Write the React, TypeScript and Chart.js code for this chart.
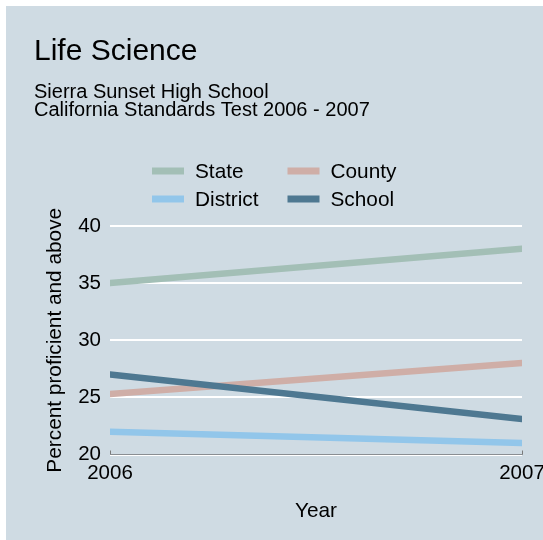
import React, { useEffect, useRef } from "react";
import { Chart, registerables } from "chart.js";

Chart.register(...registerables);

const years = [2006, 2007];
const seriesNames = ["State", "County", "District", "School"];
const stateValues = [35, 38];
const countyValues = [25.3, 28];
const districtValues = [22, 21];
const schoolValues = [27, 23.1];
const seriesColors = ["#a3bfb6", "#cfaea7", "#92c6ea", "#4e7891"];
const yTicks = [20, 25, 30, 35, 40];
const titleText = "Life Science";
const subtitleLines = ["Sierra Sunset High School", "California Standards Test 2006 - 2007"];
const xTitle = "Year";
const yTitle = "Percent proficient and above";

const FONT = "'Liberation Sans', Arial, Helvetica, sans-serif";
const PANEL = "#cfdbe3";

export default function App() {
  const canvasRef = useRef<HTMLCanvasElement | null>(null);

  useEffect(() => {
    const canvas = canvasRef.current;
    if (!canvas) return;
    const allValues = [stateValues, countyValues, districtValues, schoolValues];
    const datasets = seriesNames.map((name, i) => ({
      label: name,
      data: years.map((yr, j) => ({ x: yr, y: allValues[i][j] })),
      borderColor: seriesColors[i],
      backgroundColor: seriesColors[i],
      borderWidth: 6.5,
      borderCapStyle: "round" as const,
      pointRadius: 0,
      pointHoverRadius: 0,
      tension: 0,
      fill: false,
      order: seriesNames.length - i,
    }));

    const backgroundPlugin = {
      id: "panelBg",
      beforeDraw(chart: any) {
        const ctx = chart.ctx;
        ctx.save();
        ctx.fillStyle = "#ffffff";
        ctx.fillRect(0, 0, chart.width, chart.height);
        ctx.fillStyle = PANEL;
        ctx.fillRect(6, 6, chart.width - 6, chart.height - 6);
        ctx.restore();
      },
    };

    const legendPlugin = {
      id: "twoColLegend",
      afterDraw(chart: any) {
        const ctx = chart.ctx;
        const area = chart.chartArea;
        ctx.save();
        chart.data.datasets.forEach((ds: any, i: number) => {
          const col = i % 2;
          const row = Math.floor(i / 2);
          const x0 = area.left + 42 + col * 135.5;
          const y = area.top - 55 + row * 28;
          ctx.strokeStyle = ds.borderColor;
          ctx.lineWidth = 7;
          ctx.lineCap = "butt";
          ctx.beginPath();
          ctx.moveTo(x0, y);
          ctx.lineTo(x0 + 32, y);
          ctx.stroke();
          ctx.fillStyle = "#000000";
          ctx.font = `20.8px ${FONT}`;
          ctx.textBaseline = "middle";
          ctx.textAlign = "left";
          ctx.fillText(ds.label, x0 + 43, y + 1.5);
        });
        ctx.restore();
      },
    };

    const chart = new Chart(canvas, {
      type: "line",
      data: { datasets },
      plugins: [backgroundPlugin, legendPlugin],
      options: {
        animation: false,
        responsive: false,
        devicePixelRatio: 1,
        layout: { padding: { left: 34, right: 21, top: 0, bottom: 0 } },
        plugins: {
          legend: { display: false },
          tooltip: { enabled: false },
          title: {
            display: true,
            text: titleText,
            align: "start",
            color: "#000000",
            font: { family: FONT, size: 30, weight: "normal", lineHeight: 1.2 },
            padding: { top: 33.3, bottom: 0 },
          },
          subtitle: {
            display: true,
            text: subtitleLines,
            align: "start",
            color: "#000000",
            font: { family: FONT, size: 20, weight: "normal", lineHeight: 0.9 },
            padding: { top: 14, bottom: 106.7 },
          },
        },
        scales: {
          x: {
            type: "linear",
            min: years[0],
            max: years[years.length - 1],
            afterBuildTicks(scale: any) {
              scale.ticks = years.map((v) => ({ value: v }));
            },
            afterFit(scale: any) {
              scale.height = 85.5;
              scale.paddingLeft = 0;
              scale.paddingRight = 0;
            },
            grid: {
              display: true,
              drawOnChartArea: false,
              drawTicks: true,
              tickLength: -4,
              color: "#7a7a7a",
              lineWidth: 1,
            },
            border: { display: true, color: "#8a8e92", width: 1 },
            ticks: {
              color: "#000000",
              font: { family: FONT, size: 20.5, lineHeight: 1.2 },
              padding: 11,
              maxRotation: 0,
              autoSkip: false,
              callback: (v: any) => String(v),
            },
            title: {
              display: true,
              text: xTitle,
              color: "#000000",
              font: { family: FONT, size: 20.8, lineHeight: 1.2 },
              padding: { top: 0, bottom: 16.5 },
            },
          },
          y: {
            type: "linear",
            min: yTicks[0],
            max: yTicks[yTicks.length - 1],
            afterBuildTicks(scale: any) {
              scale.ticks = yTicks.map((v) => ({ value: v }));
            },
            afterFit(scale: any) {
              scale.width = 76;
            },
            grid: {
              color: "#ffffff",
              lineWidth: 2,
              drawTicks: false,
            },
            border: { display: false },
            ticks: {
              color: "#000000",
              font: { family: FONT, size: 20.5, lineHeight: 1.2 },
              padding: 9,
              callback: (v: any) => String(v),
            },
            title: {
              display: true,
              text: yTitle,
              color: "#000000",
              font: { family: FONT, size: 20.8, lineHeight: 1.2 },
              padding: { top: 9, bottom: 0 },
            },
          },
        },
      },
    } as any);

    return () => chart.destroy();
  }, []);

  return (
    <div style={{ position: "fixed", left: 0, top: 0, width: 543, height: 540 }}>
      <canvas ref={canvasRef} width={543} height={540} style={{ display: "block", width: 543, height: 540 }} />
    </div>
  );
}
